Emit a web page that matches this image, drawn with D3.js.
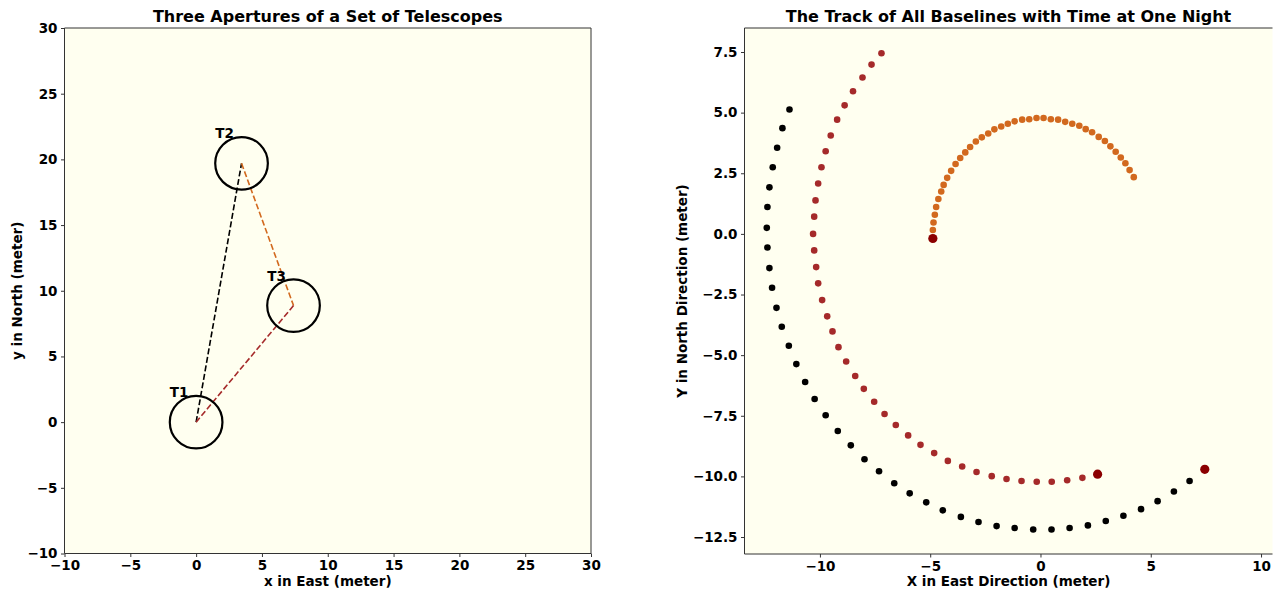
<!DOCTYPE html>
<html>
<head>
<meta charset="utf-8">
<script src="https://cdn.jsdelivr.net/npm/d3@7"></script>
<style>
  html, body { margin: 0; padding: 0; background: #ffffff; overflow: hidden; }
  svg { display: block; }
  text { font-family: "DejaVu Sans", sans-serif; font-weight: bold; fill: #000; }
</style>
</head>
<body>
<svg id="chart" width="1273" height="590"></svg>
<script>
// ---------------- Data ----------------
const telescopeNames = ["T1", "T2", "T3"];
const telescopeX = [0, 3.45, 7.4];
const telescopeY = [0, 19.7, 8.87];
const apertureRadius = 2;
const baselinePairs = [[0, 1], [1, 2], [2, 0]];
const baselineColors = ["#000000", "#d2691e", "#a52a2a"];

const leftTicks = [-10, -5, 0, 5, 10, 15, 20, 25, 30];
const rightXTicks = [-10, -5, 0, 5, 10];
const rightYTicks = [-12.5, -10, -7.5, -5, -2.5, 0, 2.5, 5, 7.5];

// baseline T1-T2 track (black)
const trackBlackX = [-11.38, -11.70, -11.94, -12.14, -12.29, -12.38, -12.41, -12.38, -12.29, -12.17,
  -11.97, -11.73, -11.41, -11.07, -10.67, -10.24, -9.74, -9.19, -8.60, -7.98,
  -7.32, -6.63, -5.93, -5.18, -4.43, -3.61, -2.81, -1.99, -1.17, -0.33,
  0.50, 1.32, 2.15, 2.96, 3.76, 4.56, 5.31, 6.05, 6.76, 7.45];
const trackBlackY = [5.13, 4.36, 3.55, 2.75, 1.92, 1.11, 0.25, -0.56, -1.41, -2.22,
  -3.05, -3.83, -4.61, -5.37, -6.11, -6.81, -7.48, -8.13, -8.72, -9.29,
  -9.79, -10.28, -10.70, -11.07, -11.40, -11.67, -11.88, -12.05, -12.13, -12.19,
  -12.19, -12.13, -12.02, -11.84, -11.62, -11.35, -11.02, -10.62, -10.19, -9.71];

// baseline T1-T3 track (brown)
const trackBrownX = [-7.21, -7.66, -8.07, -8.50, -8.88, -9.22, -9.51, -9.74, -9.93, -10.08,
  -10.20, -10.26, -10.31, -10.26, -10.17, -10.08, -9.90, -9.67, -9.43, -9.16,
  -8.81, -8.40, -8.01, -7.54, -7.07, -6.56, -6.00, -5.44, -4.82, -4.20,
  -3.55, -2.90, -2.21, -1.54, -0.86, -0.17, 0.51, 1.21, 1.90, 2.59];
const trackBrownY = [7.45, 6.98, 6.45, 5.88, 5.30, 4.71, 4.06, 3.41, 2.75, 2.08,
  1.38, 0.71, 0.00, -0.68, -1.37, -2.04, -2.73, -3.40, -4.02, -4.67,
  -5.26, -5.86, -6.39, -6.92, -7.43, -7.88, -8.31, -8.70, -9.04, -9.36,
  -9.59, -9.82, -9.99, -10.11, -10.19, -10.22, -10.22, -10.16, -10.06, -9.91];

// baseline T2-T3 track (orange)
const trackOrangeX = [4.23, 4.04, 3.85, 3.64, 3.41, 3.17, 2.92, 2.64, 2.34, 2.05,
  1.76, 1.44, 1.12, 0.80, 0.47, 0.14, -0.18, -0.51, -0.83, -1.17,
  -1.48, -1.78, -2.09, -2.37, -2.66, -2.93, -3.19, -3.41, -3.64, -3.85,
  -4.05, -4.23, -4.39, -4.50, -4.63, -4.73, -4.79, -4.85, -4.88, -4.88];
const trackOrangeY = [2.34, 2.63, 2.91, 3.15, 3.39, 3.61, 3.83, 4.00, 4.19, 4.32,
  4.46, 4.54, 4.62, 4.71, 4.73, 4.78, 4.78, 4.73, 4.71, 4.64,
  4.54, 4.43, 4.31, 4.14, 3.98, 3.81, 3.58, 3.36, 3.13, 2.88,
  2.60, 2.31, 2.02, 1.75, 1.44, 1.11, 0.79, 0.47, 0.16, -0.19];

const tracks = [
  {xs: trackBlackX, ys: trackBlackY, color: "#000000"},
  {xs: trackBrownX, ys: trackBrownY, color: "#a52a2a"},
  {xs: trackOrangeX, ys: trackOrangeY, color: "#d2691e"}
];
const lastPointColor = "#8b0000";

// ---------------- Drawing ----------------
const svg = d3.select("#chart");
const bg = "#fffff0";
const tickFont = 13.5;
const labelFont = 13.5;
const titleFont = 16;

function drawAxes(g, x, y, xTicks, yTicks, xFmt, yFmt) {
  const [x0, x1] = x.range();
  const [y0, y1] = y.range();
  g.append("rect").attr("x", x0).attr("y", y1).attr("width", x1 - x0).attr("height", y0 - y1)
    .attr("fill", bg);
  const xa = g.append("g").attr("transform", `translate(0,${y0})`)
    .call(d3.axisBottom(x).tickValues(xTicks).tickFormat(xFmt).tickSize(3.5).tickPadding(3.5).tickSizeOuter(0));
  const ya = g.append("g").attr("transform", `translate(${x0},0)`)
    .call(d3.axisLeft(y).tickValues(yTicks).tickFormat(yFmt).tickSize(3.5).tickPadding(3.5).tickSizeOuter(0));
  [xa, ya].forEach(a => {
    a.select(".domain").remove();
    a.selectAll("text").attr("font-size", tickFont).attr("font-family", "DejaVu Sans").attr("font-weight", "bold").attr("fill", "#000");
    a.selectAll("line").attr("stroke", "#333");
  });
  return {x0, x1, y0, y1};
}
function drawSpines(g, b, sides) {
  const s = g.append("g").attr("stroke", "#333").attr("stroke-width", 1).attr("fill", "none");
  if (sides.includes("l")) s.append("line").attr("x1", b.x0).attr("x2", b.x0).attr("y1", b.y1).attr("y2", b.y0);
  if (sides.includes("r")) s.append("line").attr("x1", b.x1).attr("x2", b.x1).attr("y1", b.y1).attr("y2", b.y0);
  if (sides.includes("t")) s.append("line").attr("x1", b.x0).attr("x2", b.x1).attr("y1", b.y1).attr("y2", b.y1);
  if (sides.includes("b")) s.append("line").attr("x1", b.x0).attr("x2", b.x1).attr("y1", b.y0).attr("y2", b.y0);
}
const minus = s => s.replace("-", "\u2212");

// ---- Left panel ----
const lx = d3.scaleLinear().domain([-10, 30]).range([64.5, 591]);
const ly = d3.scaleLinear().domain([-10, 30]).range([553.5, 28]);
const gl = svg.append("g");
const lb = drawAxes(gl, lx, ly, leftTicks, leftTicks, d => minus(d3.format("d")(d)), d => minus(d3.format("d")(d)));

baselinePairs.forEach((p, i) => {
  gl.append("line")
    .attr("x1", lx(telescopeX[p[0]])).attr("y1", ly(telescopeY[p[0]]))
    .attr("x2", lx(telescopeX[p[1]])).attr("y2", ly(telescopeY[p[1]]))
    .attr("stroke", baselineColors[i]).attr("stroke-width", 1.6)
    .attr("stroke-dasharray", "6,2.6");
});
telescopeNames.forEach((n, i) => {
  const rx = lx(telescopeX[i] + apertureRadius) - lx(telescopeX[i]);
  const ry = ly(telescopeY[i]) - ly(telescopeY[i] + apertureRadius);
  gl.append("ellipse").attr("cx", lx(telescopeX[i])).attr("cy", ly(telescopeY[i]))
    .attr("rx", rx).attr("ry", ry).attr("fill", "none").attr("stroke", "#000").attr("stroke-width", 2.2);
  gl.append("text").attr("x", lx(telescopeX[i] - 2)).attr("y", ly(telescopeY[i] + 1.9))
    .attr("font-size", tickFont).text(n);
});
drawSpines(gl, lb, "lrtb");
gl.append("text").attr("x", (lb.x0 + lb.x1) / 2).attr("y", 22).attr("text-anchor", "middle")
  .attr("font-size", titleFont).text("Three Apertures of a Set of Telescopes");
gl.append("text").attr("x", (lb.x0 + lb.x1) / 2).attr("y", 586).attr("text-anchor", "middle")
  .attr("font-size", labelFont).text("x in East (meter)");
gl.append("text").attr("transform", `translate(22,${(lb.y0 + lb.y1) / 2}) rotate(-90)`).attr("text-anchor", "middle")
  .attr("font-size", labelFont).text("y in North (meter)");

// ---- Right panel ----
const rx = d3.scaleLinear().domain([-13.42, 10.52]).range([744.5, 1272.5]);
const ry = d3.scaleLinear().domain([-13.2, 8.49]).range([554, 28]);
const gr = svg.append("g");
const rb = drawAxes(gr, rx, ry, rightXTicks, rightYTicks, d => minus(d3.format("d")(d)), d => minus(d3.format(".1f")(d)));
tracks.forEach(t => {
  const n = t.xs.length;
  gr.append("g").selectAll("circle").data(d3.range(n - 1)).join("circle")
    .attr("cx", i => rx(t.xs[i])).attr("cy", i => ry(t.ys[i])).attr("r", 3.3).attr("fill", t.color);
  gr.append("circle").attr("cx", rx(t.xs[n - 1])).attr("cy", ry(t.ys[n - 1])).attr("r", 4.6).attr("fill", lastPointColor);
});
drawSpines(gr, rb, "ltb");
gr.append("text").attr("x", (rb.x0 + rb.x1) / 2).attr("y", 22).attr("text-anchor", "middle")
  .attr("font-size", titleFont).text("The Track of All Baselines with Time at One Night");
gr.append("text").attr("x", (rb.x0 + rb.x1) / 2).attr("y", 586).attr("text-anchor", "middle")
  .attr("font-size", labelFont).text("X in East Direction (meter)");
gr.append("text").attr("transform", `translate(687,${(rb.y0 + rb.y1) / 2}) rotate(-90)`).attr("text-anchor", "middle")
  .attr("font-size", labelFont).text("Y in North Direction (meter)");
</script>
</body>
</html>
